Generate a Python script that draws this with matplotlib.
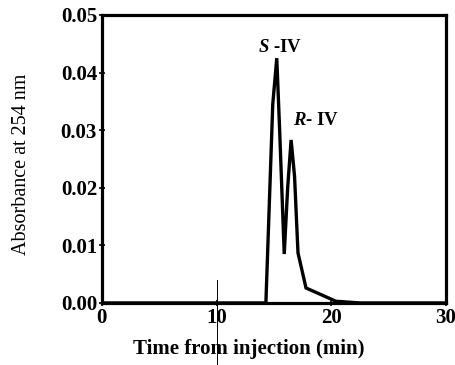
import matplotlib.pyplot as plt
import numpy as np

plt.rcParams['font.family'] = ['Liberation Serif', 'DejaVu Serif']
plt.rcParams['mathtext.fontset'] = 'custom'
plt.rcParams['mathtext.bfit'] = 'Liberation Serif:bold:italic'
plt.rcParams['mathtext.it'] = 'Liberation Serif:italic'
plt.rcParams['mathtext.bf'] = 'Liberation Serif:bold'
plt.rcParams['mathtext.rm'] = 'Liberation Serif'

# chromatogram
time_min = [0, 14.3, 14.9, 15.25, 15.5, 15.9, 16.2, 16.5, 16.8, 17.1, 17.8, 19.5, 20.4, 22.5, 30]
absorb = [0, 0, 0.0345, 0.0425, 0.030, 0.0085, 0.020, 0.0283, 0.022, 0.0087, 0.0026, 0.0011, 0.0003, 0, 0]

x_ticks = [0, 10, 20, 30]
y_ticks = [0.00, 0.01, 0.02, 0.03, 0.04, 0.05]

fig = plt.figure(figsize=(4.55, 3.65), dpi=100)
ax = fig.add_axes([0.224, 0.170, 0.756, 0.789])

ax.plot(time_min, absorb, color='black', lw=2.4, solid_joinstyle='miter')

ax.set_xlim(0, 30)
ax.set_ylim(0, 0.05)
ax.set_xticks(x_ticks)
ax.set_yticks(y_ticks)
ax.set_xticklabels([str(t) for t in x_ticks], fontsize=15, fontweight='bold')
ax.set_yticklabels(['%.2f' % v for v in y_ticks], fontsize=15, fontweight='bold')
ax.tick_params(direction='inout', length=5, width=1.2, pad=1)

for s in ax.spines.values():
    s.set_linewidth(2.3)

ax.set_xlabel('Time from injection (min)', fontsize=15, fontweight='bold')
ax.xaxis.set_label_coords(0.427, -0.125)
ax.xaxis.label.set_va('top')
ax.set_ylabel('Absorbance at 254 nm', fontsize=14.5)
ax.yaxis.set_label_coords(-0.205, 0.48)

ax.text(15.5, 0.0428, r'$\bfit{S}$ -IV', fontsize=13.5, fontweight='bold', ha='center', va='bottom')
ax.text(18.7, 0.0302, r'$\bfit{R}$- IV', fontsize=13.5, fontweight='bold', ha='center', va='bottom')

# scan artifact: thin line through the 10 mark
ax.plot([10, 10], [-0.013, 0.004], color='black', lw=0.7, clip_on=False)

fig.savefig('out.png', dpi=100)
